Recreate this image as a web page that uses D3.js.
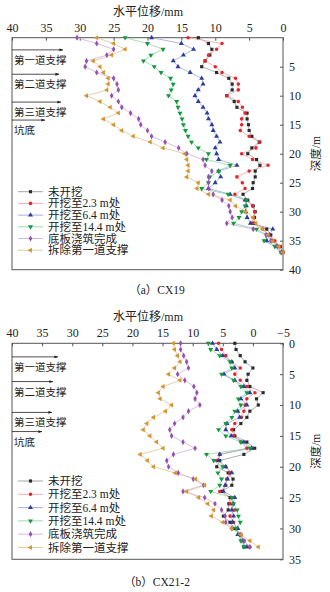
<!DOCTYPE html>
<html><head><meta charset="utf-8">
<script src="https://cdn.jsdelivr.net/npm/d3@7"></script>
<style>
body{margin:0;background:#fff;}
svg{display:block;font-family:"Liberation Serif","Noto Sans CJK SC",serif;}
</style></head>
<body><svg id="c" width="330" height="592"></svg>
<script>
const seriesNames = ["未开挖","开挖至2.3 m处","开挖至6.4 m处","开挖至14.4 m处","底板浇筑完成","拆除第一道支撑"];
const markerColors = ["#2b2b2b","#e8232b","#2b3f9a","#139a3c","#9650b0","#d4952c"];
const lineColors = ["#9a9a9a","#f2a6a6","#9aa6d6","#96d3a6","#cdb1dc","#dcc59a"];

// Panel (a) CX19: depth 0..37 m
const depthA = d3.range(0, 38);
const a_black  = [12.5,11,10.5,10.8,11.5,12,9.8,8,7.5,7.5,8.3,7.2,6.8,5.3,5.3,5.1,5,4.6,3.5,4.6,5.2,3.9,3.4,4.1,4.1,4.4,4.5,5.9,5.2,4.4,4.1,4.2,4.3,2.4,1.8,1.5,0.4,0];
const a_red    = [14,9,9.8,11,11.5,10,9,7,6.6,6.6,8.3,6.6,6,5.6,6.1,6.1,6.3,5,3.4,4,6.1,4.5,2.2,5,6.8,6,5.6,7.1,5.5,4.5,4.2,4.4,4.6,3,2,1.2,0.5,0];
const a_blue   = [19.4,15,13.2,14.7,16.2,15.5,13.7,12,11.8,12.5,13,12.5,11.8,11.2,11,10.5,10.3,9.8,9.3,10,9.8,9.5,6.8,9.5,9.2,10,11,7.8,5.6,5.4,5.5,5.3,4.8,1.5,2,2.4,1,0.2];
const a_green  = [23.3,20,17.7,19.5,20.6,19,18,16.6,16.2,16.5,16.9,15.7,15.5,15.2,14.9,14.7,14.4,14,13.5,12.5,11,11.3,7.8,9.5,10.8,11,12,8.1,5.4,5.6,6.1,6.5,7.3,3.9,2.4,2.8,1.2,0.3];
const a_purple = [30.4,27.5,25,26,29,29.2,27.5,25,24.5,24.3,25.3,24.3,23.8,22.5,21.3,21,20,19.4,17.4,15.4,14.2,11.8,11.5,10.5,11,11,11,10.3,9,8,7.8,7.5,8.3,4.4,2.5,1.8,0.8,0.2];
const a_orange = [27.5,25,23.3,25.3,28,27,26.5,25.8,25.8,26,29,27,25.5,24.3,26.5,25,23.8,22.1,19.6,17.7,14.5,14.2,14,14,14.2,12.5,12.7,11,7.8,7,5.5,4.4,4,3,2.2,1.5,0.6,0];

// Panel (b) CX21-2: depth 0..33 m
const depthB = d3.range(0, 34);
const b_black  = [3,2.8,2.1,1.3,0,0.8,1,0.5,-1.7,-0.6,-0.9,0.5,1,2,3.2,3,1,-0.3,1.5,5.5,6,4.1,3.3,3.5,5.2,3.8,4,4.1,4.9,3.8,3,2,1.5,1.5];
const b_red    = [5.7,5.2,4.5,3.5,2.1,3,2.1,1,-0.35,1,1.3,1.5,1.9,3,3.5,3.2,2,1,5.5,6,4.5,3.8,4.35,4.5,5.5,3.5,3.8,3,3.8,3.2,2.7,2.2,1.5,0.5];
const b_blue   = [6.7,6,5,3.5,3,4.8,3,1.5,0.5,2,1,2.5,2.2,4.3,4.5,3.6,1.5,0.2,5.5,5.7,4.5,3.5,4.2,4.6,4.9,3,3.3,3.5,3.2,3.4,2.5,2.5,1.8,1];
const b_green  = [7.4,7,5.5,3.8,3.5,5.2,3.2,2,1,2.4,2,3,3.5,4.5,5.7,4.5,2,0.5,7.7,6.5,5,5.8,5.2,5.5,7,3.5,3.2,2.6,2.4,2.1,2.8,2.2,2,1.5];
const b_purple = [12,12,11.5,11,10.7,12.5,11.3,9.8,9.3,9.6,8.8,10.7,11.6,13,13.8,13.5,11.6,9.6,13.2,14.3,14,12.4,9.9,8.2,11.6,8,6.3,5.2,4.6,4.5,3.5,2.1,1.5,0.5];
const b_orange = [13.2,13,12.5,12.1,13,14,12.1,14.9,15.7,15.4,13.5,14.5,16.5,17.6,18.2,17.1,16,14.9,18.7,17.5,16.5,12.9,9.5,8,11,9,7.5,6.5,6.9,5,3.5,2,0.5,-0.9];

const xTicksA = [40,35,30,25,20,15,10,5,0];
const yTicksA = [5,10,15,20,25,30,35,40];
const xTicksB = [40,35,30,25,20,15,10,5,0,-5];
const yTicksB = [0,5,10,15,20,25,30,35];
const annoLabels = ["第一道支撑","第二道支撑","第三道支撑","坑底"];
const annoDepthA = [2.1,6.3,11.1,14.2];
const annoDepthB = [2.2,6.2,11.2,14.3];

const svg = d3.select("#c");
const symbols = [d3.symbolSquare, d3.symbolCircle, d3.symbolTriangle, d3.symbolTriangle, d3.symbolDiamond, d3.symbolTriangle];
const rotations = [0,0,0,180,0,-90];
const sizes = [10,10,11,11,11,11];

function panel(cfg){
  const g = svg.append("g");
  const x = d3.scaleLinear().domain(cfg.xDomain).range([12,283]);
  const y = d3.scaleLinear().domain(cfg.yDomain).range([cfg.top,cfg.bottom]);
  g.append("rect").attr("x",12).attr("y",cfg.top).attr("width",271).attr("height",cfg.bottom-cfg.top)
    .attr("fill","none").attr("stroke","#555").attr("stroke-width",1);
  const xa = d3.axisTop(x).tickValues(cfg.xTicks).tickSize(-3).tickPadding(6)
    .tickFormat(d=> d<0 ? "\u2212"+(-d) : d);
  const gx = g.append("g").attr("transform",`translate(0,${cfg.top})`).call(xa);
  gx.select(".domain").remove();
  gx.selectAll("line").attr("stroke","#555");
  gx.selectAll("text").attr("font-size",12).attr("fill","#222").attr("font-family","Liberation Serif");
  const ya = d3.axisRight(y).tickValues(cfg.yTicks).tickSize(-3).tickPadding(6);
  const gy = g.append("g").attr("transform",`translate(283,0)`).call(ya);
  gy.select(".domain").remove();
  gy.selectAll("line").attr("stroke","#555");
  gy.selectAll("text").attr("font-size",12).attr("fill","#222").attr("font-family","Liberation Serif");
  g.append("text").attr("x",148).attr("y",cfg.top-22).attr("text-anchor","middle")
    .attr("font-size",12).attr("fill","#222").text("水平位移/mm");
  g.append("text").attr("transform",`translate(320,${(cfg.top+cfg.bottom)/2}) rotate(-90)`)
    .attr("text-anchor","middle").attr("font-size",11.5).attr("fill","#222").text("深度/m");
  const defsId = "ah"+cfg.id;
  svg.append("defs").append("marker").attr("id",defsId).attr("viewBox","0 0 10 10").attr("refX",9).attr("refY",5)
    .attr("markerWidth",5).attr("markerHeight",5).attr("orient","auto")
    .append("path").attr("d","M0,1.5L10,5L0,8.5z").attr("fill","#222");
  annoLabels.forEach((lab,i)=>{
    const yy = y(cfg.annoDepth[i]);
    g.append("line").attr("x1",12).attr("x2",cfg.annoEnd[i]).attr("y1",yy).attr("y2",yy)
      .attr("stroke","#222").attr("stroke-width",0.8).attr("marker-end",`url(#${defsId})`);
    g.append("text").attr("x",14).attr("y",yy+14).attr("font-size",10.5).attr("fill","#222").text(lab);
  });
  const line = d3.line().x(d=>x(d[0])).y(d=>y(d[1]));
  cfg.series.forEach((vals,i)=>{
    const pts = vals.map((v,j)=>[v,cfg.depth[j]]);
    g.append("path").datum(pts).attr("d",line).attr("fill","none")
      .attr("stroke",lineColors[i]).attr("stroke-width",0.8);
  });
  cfg.series.forEach((vals,i)=>{
    const pts = vals.map((v,j)=>[v,cfg.depth[j]]);
    g.selectAll(null).data(pts).enter().append("path")
      .attr("d",d3.symbol().type(symbols[i]).size(sizes[i]))
      .attr("transform",d=>`translate(${x(d[0])},${y(d[1])}) rotate(${rotations[i]})`)
      .attr("fill",markerColors[i]);
  });
  seriesNames.forEach((nm,i)=>{
    const ly = cfg.legTop + i*cfg.legStep;
    g.append("line").attr("x1",18).attr("x2",43).attr("y1",ly).attr("y2",ly)
      .attr("stroke",lineColors[i]).attr("stroke-width",0.9);
    g.append("path").attr("d",d3.symbol().type(symbols[i]).size(sizes[i]))
      .attr("transform",`translate(30.5,${ly}) rotate(${rotations[i]})`).attr("fill",markerColors[i]);
    g.append("text").attr("x",48).attr("y",ly+4).attr("font-size",11.5).attr("fill","#222").text(nm);
  });
  g.append("text").attr("x",157).attr("y",cfg.capY).attr("text-anchor","middle")
    .attr("font-size",11.5).attr("fill","#222").text(cfg.caption);
}

panel({id:"a", xDomain:[40,0], yDomain:[0,40], top:37.7, bottom:269.7,
  xTicks:xTicksA, yTicks:yTicksA, depth:depthA,
  series:[a_black,a_red,a_blue,a_green,a_purple,a_orange],
  annoDepth:annoDepthA, annoEnd:[63,59,61,45],
  legTop:191.7, legStep:11.7, capY:294, caption:"（a）CX19"});

panel({id:"b", xDomain:[40,-5], yDomain:[0,35], top:343.3, bottom:559.3,
  xTicks:xTicksB, yTicks:yTicksB, depth:depthB,
  series:[b_black,b_red,b_blue,b_green,b_purple,b_orange],
  annoDepth:annoDepthB, annoEnd:[58,53,52,42],
  legTop:481, legStep:13.3, capY:586, caption:"（b）CX21-2"});
</script></body></html>
